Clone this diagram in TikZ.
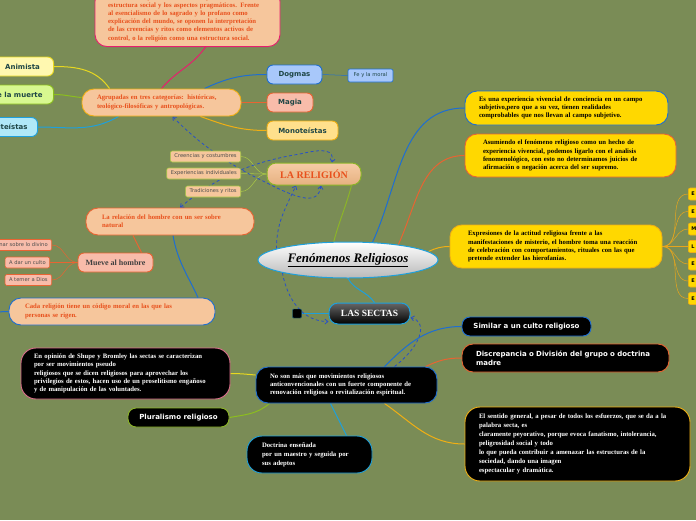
\documentclass[tikz,border=0pt]{standalone}
\usepackage{fontspec}
\setmainfont{Liberation Serif}
\setsansfont{DejaVu Sans}
\usetikzlibrary{calc,arrows.meta,shapes.geometric}

\definecolor{fondo}{RGB}{122,140,86}
\definecolor{tostado}{RGB}{246,198,156}
\definecolor{rojizo}{RGB}{232,80,28}
\definecolor{naranja}{RGB}{232,100,50}
\definecolor{fucsia}{RGB}{230,30,110}
\definecolor{azul}{RGB}{30,110,210}
\definecolor{celeste}{RGB}{30,160,220}
\definecolor{verde}{RGB}{140,180,40}
\definecolor{verdeclaro}{RGB}{170,200,70}
\definecolor{verdelima}{RGB}{140,190,30}
\definecolor{dorado}{RGB}{240,175,20}
\definecolor{amarillo}{RGB}{255,216,0}
\definecolor{amarillito}{RGB}{255,224,140}
\definecolor{limon}{RGB}{232,216,32}
\definecolor{salmon}{RGB}{248,188,170}
\definecolor{celestito}{RGB}{168,200,250}
\definecolor{tinta}{RGB}{30,70,70}
\definecolor{azulrel}{RGB}{40,80,200}
\definecolor{rosa}{RGB}{220,110,140}

\pgfdeclarelayer{capafondo}
\pgfdeclarelayer{capalineas}
\pgfsetlayers{capafondo,capalineas,main}

\begin{document}
\begin{tikzpicture}[
    x=1pt, y=1pt,
    caja/.style={draw, rounded corners=12pt, line width=0.9pt, align=left, inner ysep=2pt,
      font=\bfseries\fontsize{6.7}{8.2}\selectfont},
    crema/.style={caja, fill=tostado, text=rojizo},
    negra/.style={caja, fill=black, text=white},
    amarilla/.style={caja, fill=amarillo, text=black},
    sans/.style={font=\sffamily\bfseries\fontsize{7}{8.5}\selectfont},
    etiqueta/.style={draw, sans, rounded corners=6pt, line width=0.9pt, minimum height=19pt,
      inner ysep=0pt, text=tinta},
    hoja/.style={draw, rounded corners=2pt, line width=0.6pt, minimum height=11pt, inner xsep=4pt,
      inner ysep=0pt, font=\sffamily\fontsize{5.2}{6}\selectfont, text=black!70},
    rama/.style={line width=1pt},
    ramita/.style={line width=0.5pt},
    enlace/.style={draw=azulrel, line width=0.8pt, dash pattern=on 3pt off 2.5pt},
    punta/.style={-{Straight Barb[length=3pt,width=5pt]}},
    puntas/.style={{Straight Barb[length=3pt,width=5pt]}-{Straight Barb[length=3pt,width=5pt]}}
  ]

    % --- Lienzo ---
    \useasboundingbox (0,0) rectangle (696,-520);
    \begin{pgfonlayer}{capafondo}
      \fill[fondo] (0,0) rectangle (696,-520);
    \end{pgfonlayer}

    % --- Núcleo central ---
    \node[ellipse, draw=celeste, line width=1pt, top color=white, bottom color=gray!55,
      minimum width=180pt, minimum height=36pt, inner sep=0pt,
      font=\bfseries\itshape\fontsize{13}{15}\selectfont] (elip) at (348,-260) {\underline{Fenómenos Religiosos}};
    \node[draw=verde, line width=1pt, rounded corners=9pt, top color=tostado!90!white, bottom color=tostado!70!brown,
      minimum width=94pt, minimum height=22pt, text=rojizo,
      font=\bfseries\fontsize{10}{11}\selectfont] (relig) at (314,-174) {LA RELIGIÓN};
    \node[draw=celeste, line width=1pt, rounded corners=9pt, top color=black!60, bottom color=black,
      minimum width=81pt, minimum height=21pt, text=white,
      font=\bfseries\fontsize{9.5}{11}\selectfont] (secta) at (369.5,-313.5) {LAS SECTAS};
    \node[draw=celeste!60!black, fill=black, minimum size=9pt, inner sep=0pt, rounded corners=1pt] (cuadro) at (297,-313.5) {};

    % --- La religión: rama superior izquierda ---
    \node[crema, draw=fucsia, text width=159pt, inner xsep=13pt, inner ysep=5pt, anchor=south] (tope) at (187.5,-47)
      {sus creencias y fundamentos, se fijan en la acción, la\\
       estructura social y los aspectos pragmáticos. Frente\\
       al esencialismo de lo sagrado y lo profano como\\
       explicación del mundo, se oponen la interpretación\\
       de las creencias y ritos como elementos activos de\\
       control, o la religión como una estructura social.};
    \node[crema, draw=dorado, text width=129pt, inner xsep=15pt, minimum height=27pt] (agrup) at (161.5,-102.5)
      {Agrupadas en tres categorías: históricas,\\ teológico-filosóficas y antropológicas.};

    \node[etiqueta, fill=celestito, draw=azul, minimum width=55pt] (dogmas) at (294.5,-74.5) {Dogmas};
    \node[hoja, fill=celestito, draw=azul, minimum width=45pt, minimum height=13pt, text=tinta] (fe) at (370.5,-75.5) {Fe y la moral};
    \node[etiqueta, fill=salmon, draw=naranja, minimum width=46pt] (magia) at (290,-102.5) {Magia};
    \node[etiqueta, fill=amarillito, draw=dorado, minimum width=71pt] (monot) at (302.5,-130.5) {Monoteístas};

    \node[etiqueta, fill={rgb,255:red,255;green,248;blue,176}, draw=limon, minimum width=62pt, anchor=east] (animista) at (54,-66.5) {Animista};
    \node[etiqueta, fill={rgb,255:red,216;green,248;blue,144}, draw=verdelima, inner xsep=11pt, anchor=east] (muerte) at (54,-94.5) {Culto de la muerte};
    \node[etiqueta, fill={rgb,255:red,176;green,232;blue,248}, draw=celeste, inner xsep=10pt, anchor=east] (polit) at (38,-127) {Politeístas};

    \node[hoja, fill=tostado, draw=verdeclaro, anchor=east] (cre) at (241,-156.5) {Creencias y costumbres};
    \node[hoja, fill=tostado, draw=verdeclaro, anchor=east] (expind) at (241,-173.5) {Experiencias individuales};
    \node[hoja, fill=tostado, draw=verdeclaro, anchor=east] (trad) at (241,-191.5) {Tradiciones y ritos};

    % --- Relación del hombre ---
    \node[crema, draw=naranja, text width=136pt, inner xsep=16pt, minimum height=27pt] (relacion) at (170,-221.5)
      {La relación del hombre con un ser sobre\\ natural};
    \node[etiqueta, fill=salmon, draw=naranja, minimum width=75pt, text=black!75,
      font=\bfseries\fontsize{8}{9}\selectfont] (mueve) at (115.5,-262.5) {Mueve al hombre};
    \node[hoja, fill=salmon, draw=naranja, anchor=east] (divino) at (52,-245) {A reflexionar sobre lo divino};
    \node[hoja, fill=salmon, draw=naranja, anchor=east] (culto) at (50,-262.5) {A dar un culto};
    \node[hoja, fill=salmon, draw=naranja, anchor=east] (temer) at (52,-280) {A temer a Dios};
    \node[crema, draw=azul, text width=174pt, inner xsep=16pt, minimum height=27pt] (cada) at (112,-311.5)
      {Cada religión tiene un código moral en las que las\\ personas se rigen.};

    % --- Rama derecha (amarillas) ---
    \node[amarilla, draw=azul, text width=175pt, inner xsep=14pt, minimum height=34pt] (exper) at (566.5,-108)
      {Es una experiencia vivencial de conciencia en un campo\\
       subjetivo,pero que a su vez, tienen realidades\\
       comprobables que nos llevan al campo subjetivo.};
    \node[amarilla, draw=naranja, text width=175pt, inner xsep=18pt, minimum height=43pt] (asum) at (570.5,-155.5)
      {Asumiendo el fenómeno religioso como un hecho de\\
       experiencia vivencial, podemos ligarlo con el analisis\\
       fenomenológico, con esto no determinamos juicios de\\
       afirmación o negación acerca del ser supremo.};
    \node[amarilla, draw=dorado, text width=176pt, inner xsep=18pt, minimum height=43pt] (expres) at (556,-246.5)
      {Expresiones de la actitud religiosa frente a las\\
       manifestaciones de misterio, el hombre toma una reacción\\
       de celebración con comportamientos, rituales con las que\\
       pretende extender las hierofanías.};

    \foreach \y/\letra [count=\i] in {194/E, 211.5/E, 229/M, 246.5/L, 264/E, 281/E, 298.5/E} {
      \node[hoja, fill=amarillo, draw=dorado, text=black, text width=20pt, minimum height=12pt,
        inner xsep=3pt, anchor=west, font=\sffamily\bfseries\fontsize{5}{6}\selectfont] (e\i) at (688,-\y) {\letra};
      \begin{pgfonlayer}{capalineas}
        \draw[ramita, dorado!80!brown] (expres.east) to[out=0,in=180] (e\i.west);
      \end{pgfonlayer}
    }

    % --- Las sectas ---
    \node[negra, draw=azul, text width=153pt, inner xsep=14pt, minimum height=36pt] (nosolo) at (346.5,-385)
      {No son más que movimientos religiosos\\
       anticonvencionales con un fuerte componente de\\
       renovación religiosa o revitalización espiritual.};
    \node[negra, draw=azul, sans, align=center, rounded corners=8pt, minimum width=129pt, minimum height=19pt,
      inner sep=0pt] (similar) at (526.5,-326.5) {Similar a un culto religioso};
    \node[negra, draw=naranja, sans, text width=179pt, inner xsep=14pt, minimum height=28pt, rounded corners=11pt]
      (discrep) at (565.5,-358) {Discrepancia o División del grupo o doctrina\\ madre};
    \node[negra, draw=dorado, text width=197pt, inner xsep=14pt, minimum height=74pt, rounded corners=15pt,
      font=\bfseries\fontsize{6.7}{9}\selectfont] (sentido) at (577.5,-444)
      {El sentido general, a pesar de todos los esfuerzos, que se da a la\\
       palabra secta, es\\
       claramente peyorativo, porque evoca fanatismo, intolerancia,\\
       peligrosidad social y todo\\
       lo que pueda contribuir a amenazar las estructuras de la\\
       sociedad, dando una imagen\\
       espectacular y dramática.};
    \node[negra, draw=rosa, text width=183pt, inner xsep=13pt, minimum height=51pt, rounded corners=15pt] (opinion) at (125.5,-373.5)
      {En opinión de Shupe y Bromley las sectas se caracterizan\\
       por ser movimientos pseudo\\
       religiosos que se dicen religiosos para aprovechar los\\
       privilegios de estos, hacen uso de un proselitismo engañoso\\
       y de manipulación de las voluntades.};
    \node[negra, draw=verde, sans, align=center, rounded corners=8pt, minimum width=101pt, minimum height=19pt,
      inner sep=0pt] (plural) at (178.5,-417.5) {Pluralismo religioso};
    \node[negra, draw=celeste, text width=95pt, inner xsep=15pt, minimum height=37pt, rounded corners=15pt,
      font=\bfseries\fontsize{6.7}{9}\selectfont] (doctrina) at (309.5,-454.5)
      {Doctrina enseñada\\ por un maestro y seguida por\\ sus adeptos};

    % --- Conectores ---
    \begin{pgfonlayer}{capalineas}
      % ramas de la religión
      \draw[rama, fucsia] (agrup.north) to[out=50,in=-125] ($(tope.south)+(18,0)$);
      \draw[rama, azul] ($(agrup.north)+(43,0)$) to[out=25,in=180] (dogmas.west);
      \draw[rama, naranja] (agrup.east) -- (magia.west);
      \draw[rama, dorado] ($(agrup.south east)+(-41,0)$) to[out=-20,in=180] (monot.west);
      \draw[ramita, azul] (dogmas.east) -- (fe.west);
      \draw[rama, limon] (animista.east) to[out=0,in=125] ($(agrup.north west)+(28,0)$);
      \draw[rama, verdelima] (muerte.east) to[out=0,in=175] ($(agrup.west)+(0,5)$);
      \draw[rama, celeste] (polit.east) to[out=0,in=-150] ($(agrup.south)+(-43,0)$);
      \draw[rama, verde] (elip.128) to[out=75,in=-105] ($(relig.south east)+(-10,0)$);
      \foreach \n in {cre,expind,trad}
        \draw[ramita, verdeclaro] (relig.west) to[out=180,in=0] (\n.east);

      % relación del hombre
      \draw[rama, naranja] ($(mueve.north)+(26,0)$) -- ($(relacion.south)+(-37,0)$);
      \foreach \n in {divino,culto,temer}
        \draw[ramita, naranja] (mueve.west) to[out=180,in=0] (\n.east);
      \draw[rama, azul] ($(relacion.south)+(3,0)$) to[out=-80,in=115] ($(cada.north)+(86,0)$);
      \coordinate (izq) at (-5,-312);
      \draw[rama, azul] (izq) -- (cada.west);

      % centro
      \draw[rama, azul] (elip.36) to[out=65,in=180] (exper.west);
      \draw[rama, naranja] (elip.17) to[out=65,in=180] (asum.west);
      \draw[rama, dorado] (elip.6) to[out=25,in=180] (expres.west);
      \draw[rama, celeste] (elip.south) to[out=-60,in=125] ($(secta.north)+(5,0)$);
      \draw[ramita, celeste] (cuadro.east) -- (secta.west);

      % sectas
      \draw[rama, azul] ($(nosolo.north)+(38,0)$) to[out=45,in=180] (similar.west);
      \draw[rama, naranja] ($(nosolo.north east)+(-12,0)$) to[out=25,in=180] (discrep.west);
      \draw[rama, dorado] ($(nosolo.south)+(38,0)$) to[out=-35,in=180] (sentido.west);
      \draw[rama, limon] (opinion.east) to[out=0,in=175] ($(nosolo.west)+(0,10)$);
      \draw[rama, verdelima] (plural.east) to[out=10,in=-140] ($(nosolo.south west)+(14,0)$);
      \draw[rama, celeste] ($(nosolo.south)+(-16,0)$) -- ($(doctrina.north)+(37,0)$);

      % relaciones punteadas
      \draw[enlace, punta] (elip.171) to[out=90,in=-115] ($(relig.south)+(-18,0)$);
      \draw[enlace, punta] (elip.191) to[out=-80,in=180] ($(secta.west)+(0,-8)$);
      \draw[enlace, punta] ($(nosolo.north)+(48,0)$) .. controls (422,-345) and (428,-322) .. ($(secta.east)+(0,-4)$);
      \draw[enlace, puntas] ($(agrup.south)+(11,0)$) .. controls (205,-150) and (240,-170) .. (265,-182)
        .. controls (300,-200) and (318,-205) .. ($(relig.south)+(7,0)$);
      \draw[enlace, puntas] ($(relacion.north)+(10,0)$) .. controls (215,-178) and (250,-162) .. (300,-154)
        .. controls (325,-148) and (334,-150) .. ($(relig.north)+(18,0)$);
    \end{pgfonlayer}

  \end{tikzpicture}
\end{document}
